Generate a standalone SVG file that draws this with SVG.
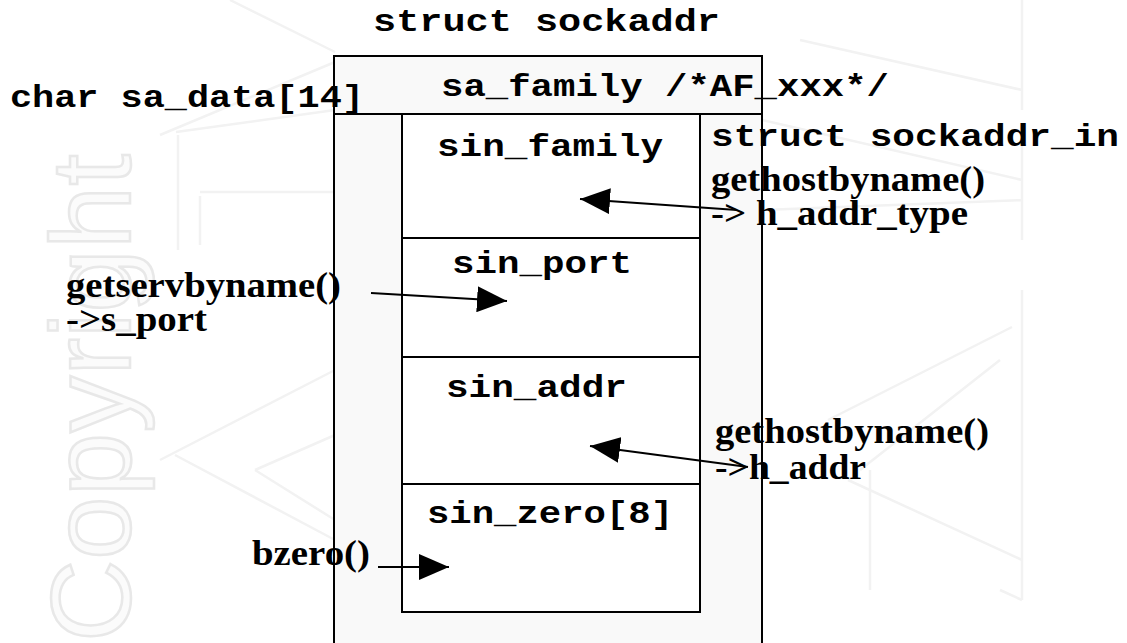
<svg xmlns="http://www.w3.org/2000/svg" width="1127" height="643" viewBox="0 0 1127 643">
  <style>
    .mono { font-family: "Liberation Mono", "DejaVu Sans Mono", monospace; font-weight: bold; font-size: 31px; fill: #000; }
    .serif { font-family: "Liberation Serif", "DejaVu Serif", serif; font-weight: bold; font-size: 35px; fill: #000; }
    .box { stroke: #000; stroke-width: 2; }
    .conn { stroke: #000; stroke-width: 2; fill: none; marker-end: url(#head); }
    .wm { stroke: #f2f2f2; stroke-width: 2.5; fill: none; }
  </style>
  <defs>
    <marker id="head" markerUnits="userSpaceOnUse" viewBox="0 0 30 26" refX="30" refY="13" markerWidth="30" markerHeight="26" orient="auto">
      <path d="M0,0 L30,13 L0,26 Z" fill="#000"/>
    </marker>
  </defs>

  <rect width="1127" height="643" fill="#fff"/>

  <!-- faint background watermark -->
  <g id="watermark">
    <text transform="translate(130,642) rotate(-90)" font-family="Liberation Sans, sans-serif" font-size="114" fill="#fbfbfb" stroke="#e8e8e8" stroke-width="2.5">Copyright</text>
    <path class="wm" d="M160,135 L335,62 M230,0 L335,52 M178,135 L178,250 M200,192 L335,192 M200,196 L200,245 M176,132 L335,110"/>
    <path class="wm" d="M160,460 L335,370 M255,470 L335,435 M255,470 L335,520 M175,455 L335,540"/>
    <path class="wm" d="M1022,0 L1022,110 M1022,140 L1022,240 M1022,290 L1022,600 M800,40 L1022,90 M762,120 L1022,180 M762,210 L1022,200"/>
    <path class="wm" d="M1012,327 L828,420 M848,480 L1022,560 M1000,360 L860,470 M870,470 L870,590 M1000,590 L1022,600"/>
  </g>

  <!-- struct sockaddr outline -->
  <g id="sockaddr">
    <rect class="box" x="334" y="56" width="428" height="600" fill="#f9f9f9"/>
    <line class="box" x1="334" y1="114" x2="762" y2="114"/>
    <text class="mono" x="373" y="31" textLength="347" lengthAdjust="spacingAndGlyphs">struct sockaddr</text>
    <text class="mono" x="441" y="96" textLength="448" lengthAdjust="spacingAndGlyphs">sa_family /*AF_xxx*/</text>
    <text class="mono" x="10" y="107" textLength="354" lengthAdjust="spacingAndGlyphs">char sa_data[14]</text>
  </g>

  <!-- struct sockaddr_in fields -->
  <g id="sockaddr_in">
    <rect class="box" x="402" y="114" width="298" height="498" fill="#fff"/>
    <line class="box" x1="402" y1="238" x2="700" y2="238"/>
    <line class="box" x1="402" y1="357" x2="700" y2="357"/>
    <line class="box" x1="402" y1="484" x2="700" y2="484"/>
    <text class="mono" x="711" y="146" textLength="408" lengthAdjust="spacingAndGlyphs">struct sockaddr_in</text>
  </g>

  <g id="sin_family">
    <text class="mono" x="437" y="156" textLength="226" lengthAdjust="spacingAndGlyphs">sin_family</text>
  </g>
  <g id="sin_port">
    <text class="mono" x="452" y="273" textLength="180" lengthAdjust="spacingAndGlyphs">sin_port</text>
  </g>
  <g id="sin_addr">
    <text class="mono" x="446" y="397" textLength="181" lengthAdjust="spacingAndGlyphs">sin_addr</text>
  </g>
  <g id="sin_zero">
    <text class="mono" x="427" y="523" textLength="246" lengthAdjust="spacingAndGlyphs">sin_zero[8]</text>
  </g>

  <!-- value sources -->
  <g id="src_addr_type">
    <text class="serif" x="711" y="191" textLength="274" lengthAdjust="spacingAndGlyphs">gethostbyname()</text>
    <text class="serif" x="711" y="225" textLength="257" lengthAdjust="spacingAndGlyphs">-&gt; h_addr_type</text>
  </g>
  <g id="src_port">
    <text class="serif" x="66" y="297" textLength="275" lengthAdjust="spacingAndGlyphs">getservbyname()</text>
    <text class="serif" x="66" y="331" textLength="141" lengthAdjust="spacingAndGlyphs">-&gt;s_port</text>
  </g>
  <g id="src_addr">
    <text class="serif" x="715" y="443" textLength="274" lengthAdjust="spacingAndGlyphs">gethostbyname()</text>
    <text class="serif" x="715" y="479" textLength="151" lengthAdjust="spacingAndGlyphs">-&gt;h_addr</text>
  </g>
  <g id="src_zero">
    <text class="serif" x="252" y="565" textLength="118" lengthAdjust="spacingAndGlyphs">bzero()</text>
  </g>

  <!-- connectors -->
  <g id="connectors">
    <line class="conn" x1="737" y1="210" x2="580" y2="199"/>
    <line class="conn" x1="371" y1="293" x2="507" y2="301"/>
    <line class="conn" x1="748" y1="467" x2="590" y2="446"/>
    <line class="conn" x1="378" y1="567" x2="449" y2="567"/>
  </g>
</svg>
